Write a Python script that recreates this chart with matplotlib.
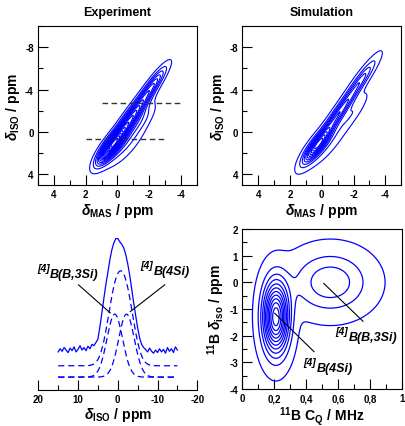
import numpy as np
import matplotlib
matplotlib.use("Agg")
import matplotlib.pyplot as plt
from matplotlib.ticker import MultipleLocator, FixedLocator, FixedFormatter

plt.rcParams['font.family'] = ['Liberation Sans', 'DejaVu Sans']
plt.rcParams['font.weight'] = 'bold'
plt.rcParams['axes.unicode_minus'] = False
plt.rcParams['mathtext.fontset'] = 'custom'
plt.rcParams['mathtext.rm'] = 'Liberation Sans'
plt.rcParams['mathtext.bf'] = 'Liberation Sans:bold'
plt.rcParams['mathtext.it'] = 'Liberation Sans:italic'

BLUE = (0.0, 0.0, 1.0)

# --- MQMAS ridge components: centre (x, y), widths, amplitude; common tilt
EXP_SLOPE = 2.24
exp_xc = [0.35, -0.8, -2.2, -1.5, -0.45]
exp_yc = [1.3, -1.2, -4.4, -1.2, 1.0]
exp_sx = [0.32, 0.30, 0.25, 0.35, 0.55]
exp_sy = [1.0, 1.6, 1.2, 1.0, 1.5]
exp_amp = [1.0, 0.75, 0.35, 0.12, 0.15]
exp_levels = np.linspace(0.035, 0.95, 17)

SIM_SLOPE = 2.22
sim_xc = [0.3, -1.0, -2.5, -1.9, -0.3]
sim_yc = [1.3, -1.6, -5.0, -1.8, 1.0]
sim_sx = [0.30, 0.25, 0.25, 0.30, 0.5]
sim_sy = [1.0, 1.8, 1.3, 1.2, 1.5]
sim_amp = [1.0, 0.7, 0.35, 0.14, 0.13]
sim_levels = np.linspace(0.035, 0.92, 11)

# dashed slice positions on the experimental map (delta_iso, from, to)
slice_iso = [-2.7, 0.7]
slice_from = [1.0, 2.0]
slice_to = [-4.0, -3.0]

# --- 1D isotropic projection
spec_ppm = np.linspace(15, -15, 61)
spec_exp = [0.40, 0.45, 0.41, 0.47, 0.43, 0.39, 0.46, 0.42, 0.48, 0.40,
            0.44, 0.50, 0.43, 0.47, 0.42, 0.49, 0.45, 0.52, 0.50, 0.55,
            0.60, 0.80, 1.02, 1.25, 1.47, 1.66, 1.86, 2.02, 2.13, 2.20,
            2.20, 2.15, 2.11, 2.05, 1.95, 1.80, 1.62, 1.40, 1.18, 0.98,
            0.78, 0.62, 0.52, 0.47, 0.44, 0.40, 0.46, 0.41, 0.38, 0.43,
            0.39, 0.45, 0.40, 0.44, 0.38, 0.47, 0.41, 0.45, 0.39, 0.48, 0.43]
fit_centre = [0.76, -2.2]
fit_height = [1.0, 1.0]
fit_width = [1.97, 1.97]
sum_offset = 0.18

# --- CQ / delta_iso distribution components: 4Si and B,3Si
dist_cq = [0.21, 0.55]
dist_iso = [-1.3, 0.0]
dist_scq = [0.053, 0.152]
dist_siso = [0.87, 0.72]
dist_amp = [1.0, 0.28]
dist_levels = np.linspace(0.022, 0.93, 11)


def ridge_field(X, Y, xc, yc, sx, sy, amp, slope):
    Z = np.zeros_like(X)
    for x0, y0, wx, wy, a in zip(xc, yc, sx, sy, amp):
        dy = Y - y0
        dx = X - x0 - dy / slope
        Z += a * np.exp(-0.5 * (dy / wy) ** 2 - 0.5 * (dx / wx) ** 2)
    return Z


def style_axes(ax, minor_x=None, minor_y=None):
    ax.tick_params(which='both', direction='in', top=False, right=False,
                   labelsize=7, width=0.8, pad=3)
    ax.tick_params(which='major', length=7)
    ax.tick_params(which='minor', length=3.5)
    if minor_x:
        ax.xaxis.set_minor_locator(MultipleLocator(minor_x))
    if minor_y:
        ax.yaxis.set_minor_locator(MultipleLocator(minor_y))
    for s in ax.spines.values():
        s.set_linewidth(0.8)


def site_label(ax, x, y, site):
    # "[4]" raised in front of the site name
    ax.text(x, y, site, fontsize=9, fontstyle='italic', fontweight='bold',
            ha='left', va='center')
    ax.annotate('[4]', (x, y), xytext=(-0.3, 4.5), textcoords='offset points',
                fontsize=7.5, fontstyle='italic', fontweight='bold',
                ha='right', va='center')


def mqmas_panel(ax, Z, levels, title):
    ax.contour(Xg, Yg, Z, levels=levels, colors=[BLUE], linewidths=0.8)
    ax.set_xlim(5, -5)
    ax.set_ylim(5, -10)
    ax.set_xticks([4, 2, 0, -2, -4])
    ax.set_yticks([-8, -4, 0, 4])
    style_axes(ax, 1, 2)
    ax.set_title(title, fontsize=9, fontweight='bold', pad=8)
    ax.set_xlabel(r'$\delta_{\mathbf{MAS}}\ \mathbf{/\ ppm}$', fontsize=10, labelpad=1)
    ax.set_ylabel(r'$\delta_{\mathbf{ISO}}\ \mathbf{/\ ppm}$', fontsize=10, labelpad=2)


fig = plt.figure(figsize=(4.06, 4.27), dpi=100)

xg = np.linspace(5, -5, 400)
yg = np.linspace(5, -10, 500)
Xg, Yg = np.meshgrid(xg, yg)

ax1 = fig.add_axes([0.0936, 0.5644, 0.3916, 0.3724])
Zexp = ridge_field(Xg, Yg, exp_xc, exp_yc, exp_sx, exp_sy, exp_amp, EXP_SLOPE)
mqmas_panel(ax1, Zexp / Zexp.max(), exp_levels, 'Experiment')
for yi, x0, x1 in zip(slice_iso, slice_from, slice_to):
    ax1.plot([x0, x1], [yi, yi], color='0.2', lw=1.0, ls=(0, (4, 2.5)))

ax2 = fig.add_axes([0.5968, 0.5644, 0.3916, 0.3724])
Zsim = ridge_field(Xg, Yg, sim_xc, sim_yc, sim_sx, sim_sy, sim_amp, SIM_SLOPE)
mqmas_panel(ax2, Zsim / Zsim.max(), sim_levels, 'Simulation')

# --- isotropic projection with two-site fit
ax3 = fig.add_axes([0.0943, 0.085, 0.3916, 0.376])
xs = np.linspace(15, -15, 301)
comps = [h * np.exp(-0.5 * ((xs - c) / w) ** 2)
         for c, h, w in zip(fit_centre, fit_height, fit_width)]
ax3.plot(spec_ppm, spec_exp, color=BLUE, lw=0.9)
ax3.plot(xs, comps[0] + comps[1] + sum_offset, color=BLUE, lw=0.9, ls=(0, (5, 3)))
for c in comps:
    ax3.plot(xs, c, color=BLUE, lw=0.9, ls=(0, (5, 3)))
ax3.set_xlim(20, -20)
ax3.set_ylim(-0.2, 2.35)
ax3.set_xticks([20, 10, 0, -10, -20])
style_axes(ax3, 5)
ax3.yaxis.set_visible(False)
for s in ['left', 'right', 'top']:
    ax3.spines[s].set_visible(False)
ax3.set_xlabel(r'$\delta_{\mathbf{ISO}}\ \mathbf{/\ ppm}$', fontsize=10, labelpad=1)
ax3.plot([9.87, 1.89], [1.465, 1.02], color='black', lw=0.8)
ax3.plot([-11.8, -3.15], [1.465, 1.04], color='black', lw=0.8)
site_label(ax3, 17.0, 1.64, 'B(B,3Si)')
site_label(ax3, -9.0, 1.68, 'B(4Si)')

# --- CQ vs delta_iso distribution
ax4 = fig.add_axes([0.5968, 0.0867, 0.394, 0.3747])
cq = np.linspace(0, 1, 400)
di = np.linspace(-4, 2, 400)
C, D = np.meshgrid(cq, di)
Zd = np.zeros_like(C)
for c0, d0, sc, sd, a in zip(dist_cq, dist_iso, dist_scq, dist_siso, dist_amp):
    Zd += a * np.exp(-0.5 * ((C - c0) / sc) ** 2 - 0.5 * ((D - d0) / sd) ** 2)
ax4.contour(C, D, Zd / Zd.max(), levels=dist_levels, colors=[BLUE], linewidths=0.9)
ax4.set_xlim(0, 1)
ax4.set_ylim(-4, 2)
ax4.xaxis.set_major_locator(FixedLocator([0, 0.2, 0.4, 0.6, 0.8, 1.0]))
ax4.xaxis.set_major_formatter(FixedFormatter(['0', '0,2', '0,4', '0,6', '0,8', '1']))
ax4.set_yticks([-4, -3, -2, -1, 0, 1, 2])
style_axes(ax4, 0.1, 0.5)
ax4.set_xlabel(r'$^{\mathbf{11}}\mathbf{B\ C}_{\mathbf{Q}}\ \mathbf{/\ MHz}$', fontsize=10, labelpad=1)
ax4.set_ylabel(r'$^{\mathbf{11}}\mathbf{B}\ \delta_{\mathbf{iso}}\ \mathbf{/\ ppm}$', fontsize=10, labelpad=2)
ax4.plot([0.509, 0.754], [-0.04, -1.46], color='black', lw=0.8)
ax4.plot([0.2025, 0.448], [-1.16, -2.6], color='black', lw=0.8)
site_label(ax4, 0.665, -2.05, 'B(B,3Si)')
site_label(ax4, 0.4625, -3.21, 'B(4Si)')

fig.savefig('out.png', dpi=100)
